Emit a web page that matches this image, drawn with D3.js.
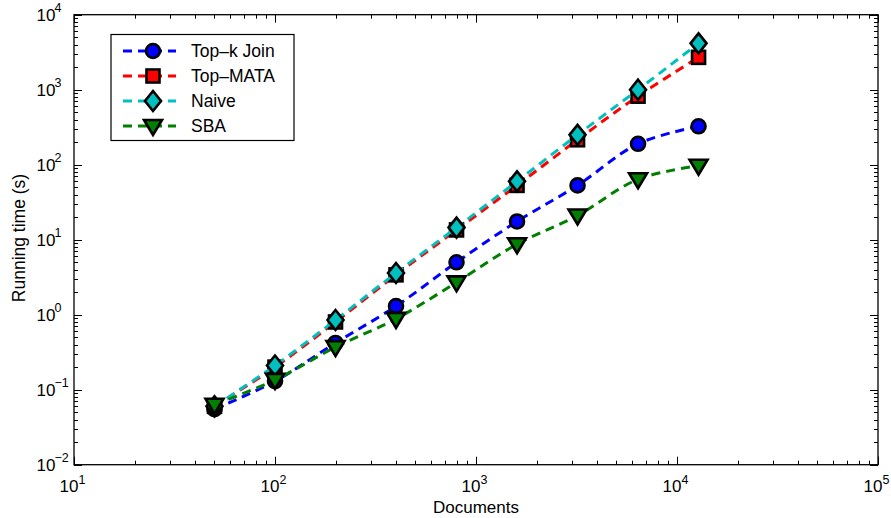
<!DOCTYPE html>
<html><head><meta charset="utf-8">
<script src="https://cdn.jsdelivr.net/npm/d3@7"></script>
<style>body{margin:0;background:#fff}text{font-family:"Liberation Sans",Arial,sans-serif;fill:#000}</style>
</head><body><svg id="c" width="891" height="518"></svg>
<script>
const documents = [50, 100, 200, 400, 800, 1600, 3200, 6400, 12800];
const topkJoin = [0.055, 0.13, 0.42, 1.3, 5.0, 17.5, 53, 190, 325];
const topMATA = [0.06, 0.2, 0.8, 3.4, 13.5, 53, 215, 820, 2700];
const naive = [0.06, 0.21, 0.85, 3.6, 14.5, 60, 250, 1000, 4150];
const sba = [0.063, 0.135, 0.37, 0.88, 2.7, 8.7, 21, 64, 97];
const seriesNames = ["Top\u2013k Join", "Top\u2013MATA", "Naive", "SBA"];
const seriesColors = ["#0000ff", "#ff0000", "#00bfbf", "#007f00"];
const seriesMarkers = ["circle", "square", "diamond", "triangle"];
const xTickExps = [1, 2, 3, 4, 5];
const yTickExps = [-2, -1, 0, 1, 2, 3, 4];

const svg = d3.select("#c");
const L = 74, R = 878, T = 14.7, B = 464.7;
const x = d3.scaleLog().domain([10, 1e5]).range([L, R]);
const y = d3.scaleLog().domain([1e-2, 1e4]).range([B, T]);

const g = svg.append("g");
function minorVals(lo, hi) {
  const v = [];
  for (let e = lo; e < hi; e++) for (let k = 2; k <= 9; k++) v.push(k * Math.pow(10, e));
  return v;
}
const xMinor = minorVals(1, 5), yMinor = minorVals(-2, 4);
function line(x1, y1, x2, y2, w) {
  g.append("line").attr("x1", x1).attr("y1", y1).attr("x2", x2).attr("y2", y2)
    .attr("stroke", "#000").attr("stroke-width", w || 1);
}
xMinor.forEach(v => { const px = Math.round(x(v)) + 0.5; line(px, B, px, B - 4); line(px, T, px, T + 4); });
xTickExps.forEach(e => { const px = Math.round(x(Math.pow(10, e))) + 0.5; line(px, B, px, B - 8); line(px, T, px, T + 8); });
yMinor.forEach(v => { const py = Math.round(y(v)) + 0.5; line(L, py, L + 4, py); line(R, py, R - 4, py); });
yTickExps.forEach(e => { const py = Math.round(y(Math.pow(10, e))) + 0.5; line(L, py, L + 8, py); line(R, py, R - 8, py); });
g.append("rect").attr("x", L).attr("y", T).attr("width", R - L).attr("height", B - T)
  .attr("fill", "none").attr("stroke", "#000").attr("stroke-width", 1.3);

const FS = 17, SFS = 12.5;
xTickExps.forEach(e => {
  const px = x(Math.pow(10, e));
  svg.append("text").attr("x", px - 14.5).attr("y", B + 27).attr("font-size", FS).text("10");
  svg.append("text").attr("x", px + 4.4).attr("y", B + 19).attr("font-size", SFS).text(e);
});
yTickExps.forEach(e => {
  const py = y(Math.pow(10, e));
  svg.append("text").attr("x", 55.5).attr("y", py + 6).attr("text-anchor", "end").attr("font-size", FS).text("10");
  svg.append("text").attr("x", 54.5).attr("y", py - 2.5).attr("font-size", SFS).text(e < 0 ? "\u2212" + (-e) : e);
});
svg.append("text").attr("x", 476).attr("y", 513).attr("text-anchor", "middle").attr("font-size", 17).text("Documents");
svg.append("text").attr("transform", "translate(25,238) rotate(-90)").attr("text-anchor", "middle")
  .attr("font-size", 17.5).text("Running time (s)");

function drawMarker(sel, type, cx, cy, color) {
  if (type === "circle") sel.append("circle").attr("cx", cx).attr("cy", cy).attr("r", 7)
    .attr("fill", color).attr("stroke", "#000").attr("stroke-width", 2.6);
  else if (type === "square") sel.append("rect").attr("x", cx - 6.5).attr("y", cy - 6.5).attr("width", 13).attr("height", 13)
    .attr("fill", color).attr("stroke", "#000").attr("stroke-width", 2.6);
  else if (type === "diamond") sel.append("path").attr("d", `M${cx},${cy - 10}L${cx + 8},${cy}L${cx},${cy + 10}L${cx - 8},${cy}Z`)
    .attr("fill", color).attr("stroke", "#000").attr("stroke-width", 2.6);
  else sel.append("path").attr("d", `M${cx - 9},${cy - 6}L${cx + 9},${cy - 6}L${cx},${cy + 9}Z`)
    .attr("fill", color).attr("stroke", "#000").attr("stroke-width", 2.6).attr("stroke-linejoin", "miter");
}

const allSeries = [topkJoin, topMATA, naive, sba];
const lineGen = d3.line().x(d => x(d[0])).y(d => y(d[1])).curve(d3.curveCatmullRom.alpha(0.5));
allSeries.forEach((vals, i) => {
  const pts = documents.map((d, j) => [d, vals[j]]);
  svg.append("path").attr("d", lineGen(pts)).attr("fill", "none").attr("stroke", seriesColors[i])
    .attr("stroke-width", 3).attr("stroke-dasharray", "9,6");
  const mg = svg.append("g");
  pts.forEach(p => drawMarker(mg, seriesMarkers[i], x(p[0]), y(p[1]), seriesColors[i]));
});

const lg = svg.append("g");
lg.append("rect").attr("x", 111).attr("y", 34.5).attr("width", 183).attr("height", 106)
  .attr("fill", "#fff").attr("stroke", "#000").attr("stroke-width", 1.2);
seriesNames.forEach((n, i) => {
  const cy = 51 + i * 25;
  lg.append("line").attr("x1", 123).attr("x2", 176).attr("y1", cy).attr("y2", cy)
    .attr("stroke", seriesColors[i]).attr("stroke-width", 3).attr("stroke-dasharray", "9,6");
  drawMarker(lg, seriesMarkers[i], 153, cy, seriesColors[i]);
  lg.append("text").attr("x", 191).attr("y", cy + 6).attr("font-size", 17.5).text(n);
});
</script></body></html>
